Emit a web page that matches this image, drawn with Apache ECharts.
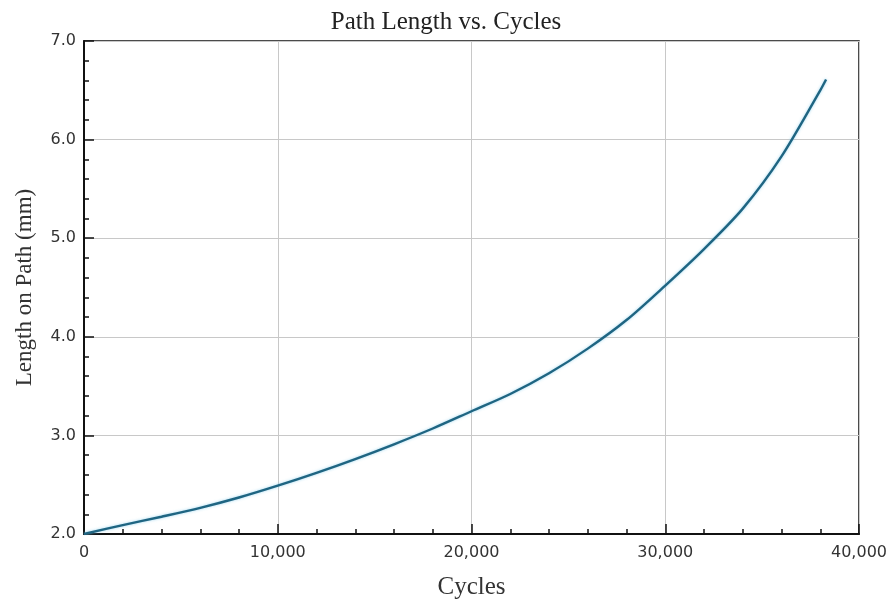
<!DOCTYPE html>
<html>
<head>
<meta charset="utf-8">
<title>Path Length vs. Cycles</title>
<script src="https://cdn.jsdelivr.net/npm/echarts@6/dist/echarts.min.js"></script>
<style>
  html, body { margin: 0; padding: 0; background: #ffffff; }
  #chart { width: 892px; height: 605px; }
</style>
</head>
<body>
<div id="chart"></div>
<script>
// Measured path length along the track at each cycle count
const cycles = [0, 2000, 4000, 6000, 8000, 10000, 12000, 14000, 16000, 18000,
                20000, 22000, 24000, 26000, 28000, 30000, 32000, 34000, 36000, 38000, 38300];
const lengthMm = [2.00, 2.09, 2.175, 2.265, 2.37, 2.49, 2.62, 2.76, 2.91, 3.07,
                  3.245, 3.42, 3.63, 3.88, 4.17, 4.52, 4.89, 5.30, 5.83, 6.50, 6.61];

const xTicks = { min: 0, max: 40000, step: 10000 };
const yTicks = { min: 2, max: 7, step: 1 };

const serif = '"Liberation Serif", "Times New Roman", serif';
const sans = '"DejaVu Sans", "Liberation Sans", sans-serif';

const chart = echarts.init(document.getElementById('chart'), null, { renderer: 'canvas' });

chart.setOption({
  animation: false,
  backgroundColor: '#ffffff',
  title: {
    text: 'Path Length vs. Cycles',
    left: 'center',
    top: 5,
    textStyle: { fontFamily: serif, fontSize: 25, fontWeight: 'normal', color: '#222' }
  },
  grid: {
    left: 84, top: 41, width: 775, height: 495,
    show: true, borderColor: '#111', borderWidth: 1.5, backgroundColor: 'transparent'
  },
  xAxis: {
    type: 'value',
    min: xTicks.min, max: xTicks.max, interval: xTicks.step,
    name: 'Cycles',
    nameLocation: 'middle',
    nameGap: 41,
    nameTextStyle: { fontFamily: serif, fontSize: 25, color: '#333' },
    axisLine: { show: true, onZero: false, lineStyle: { color: '#111', width: 2 } },
    axisTick: { show: true, inside: true, length: 10, lineStyle: { color: '#111', width: 1.5 } },
    minorTick: { show: true, splitNumber: 5, length: 5, lineStyle: { color: '#111', width: 1.5 } },
    splitLine: { show: true, lineStyle: { color: '#c8c8c8', width: 1 } },
    axisLabel: {
      margin: 11,
      fontFamily: sans, fontSize: 16, color: '#333',
      formatter: v => v.toLocaleString('en-US')
    }
  },
  yAxis: {
    type: 'value',
    min: yTicks.min, max: yTicks.max, interval: yTicks.step,
    name: 'Length on Path (mm)',
    nameLocation: 'middle',
    nameGap: 48,
    nameRotate: 90,
    nameTextStyle: { fontFamily: serif, fontSize: 23, color: '#333' },
    axisLine: { show: true, onZero: false, lineStyle: { color: '#111', width: 2 } },
    axisTick: { show: true, inside: true, length: 10, lineStyle: { color: '#111', width: 1.5 } },
    minorTick: { show: true, splitNumber: 5, length: 5, lineStyle: { color: '#111', width: 1.5 } },
    splitLine: { show: true, lineStyle: { color: '#c8c8c8', width: 1 } },
    axisLabel: {
      margin: 8,
      fontFamily: sans, fontSize: 16, color: '#333',
      formatter: v => v.toFixed(1)
    }
  },
  series: [{
    type: 'line',
    data: cycles.map((c, i) => [c, lengthMm[i]]),
    smooth: 0.3,
    showSymbol: false,
    lineStyle: {
      color: '#1f6582', width: 2.4,
      shadowColor: 'rgba(120, 200, 235, 0.7)', shadowBlur: 3
    }
  }]
});
</script>
</body>
</html>
